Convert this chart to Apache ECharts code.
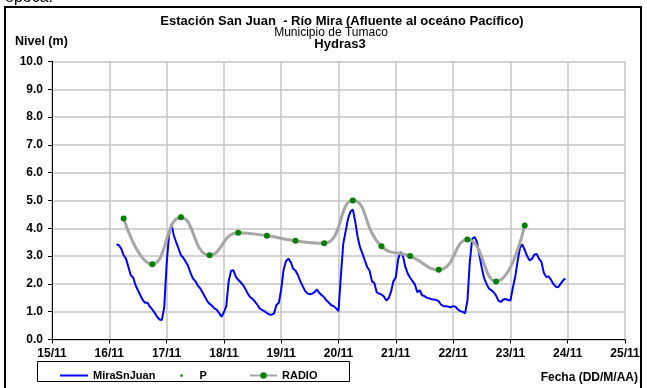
<!DOCTYPE html>
<html>
<head>
<meta charset="utf-8">
<title>Estación San Juan - Río Mira</title>
<script src="https://cdn.jsdelivr.net/npm/echarts@6/dist/echarts.min.js"></script>
<style>
  html, body { margin: 0; padding: 0; background: #fff; }
  #chart { width: 647px; height: 388px; }
</style>
</head>
<body>
<div id="chart"></div>
<script>
// nivel horario MiraSnJuan, desde 16/11 03:00 (una lectura por hora)
var miraStartHour = 3;
var miraLevels = [
  3.42, 3.39, 3.27, 3.03, 2.91, 2.61, 2.31, 2.23, 1.95, 1.77, 1.59, 1.42, 1.32, 1.32, 1.18, 1.08, 0.96, 0.82, 0.72, 0.70, 1.15,
  2.70, 3.75, 4.16, 3.75, 3.50, 3.27, 3.03, 2.94, 2.80, 2.65, 2.40, 2.20, 2.10, 1.95, 1.85, 1.70, 1.55, 1.38, 1.28, 1.22, 1.12, 1.07, 0.95, 0.82,
  0.98, 1.20, 2.10, 2.47, 2.49, 2.25, 2.15, 2.06, 1.96, 1.82, 1.65, 1.52, 1.46, 1.36, 1.25, 1.12, 1.06, 1.02, 0.95, 0.90, 0.89, 0.94, 1.24, 1.32,
  1.80, 2.50, 2.82, 2.91, 2.78, 2.55, 2.47, 2.32, 2.10, 1.92, 1.75, 1.66, 1.63, 1.65, 1.71, 1.80, 1.67, 1.59, 1.52, 1.40, 1.32, 1.23, 1.20, 1.12,
  1.02, 2.30, 3.45, 3.90, 4.35, 4.60, 4.68, 4.25, 3.70, 3.32, 3.10, 2.85, 2.61, 2.48, 2.10, 2.03, 1.70, 1.65, 1.62, 1.55, 1.40, 1.48, 1.72, 2.10,
  2.24, 2.90, 3.15, 3.00, 2.61, 2.37, 2.22, 2.10, 1.98, 1.70, 1.77, 1.59, 1.56, 1.50, 1.48, 1.45, 1.44, 1.42, 1.37, 1.25, 1.20, 1.20, 1.18, 1.16,
  1.20, 1.18, 1.08, 1.02, 1.00, 0.94, 1.40, 2.80, 3.62, 3.69, 3.51, 3.05, 2.58, 2.20, 2.00, 1.83, 1.78, 1.70, 1.58, 1.40, 1.35, 1.44, 1.46, 1.42,
  1.40, 1.85, 2.25, 2.80, 3.30, 3.42, 3.22, 3.00, 2.85, 2.90, 3.05, 3.08, 2.90, 2.79, 2.40, 2.25, 2.27, 2.15, 2.00, 1.90, 1.88, 2.00, 2.12, 2.19
];

// lecturas RADIO (06:00 y 18:00)
var radioTimes = ['16/11 06:00', '16/11 18:00', '17/11 06:00', '17/11 18:00', '18/11 06:00', '18/11 18:00',
  '19/11 06:00', '19/11 18:00', '20/11 06:00', '20/11 18:00', '21/11 06:00', '21/11 18:00',
  '22/11 06:00', '22/11 18:00', '23/11 06:00'];
var radioLevels = [4.35, 2.71, 4.40, 3.03, 3.84, 3.73, 3.55, 3.46, 5.00, 3.35, 3.00, 2.51, 3.60, 2.09, 4.10];

var pValues = [];

var dayTicks = ['15/11', '16/11', '17/11', '18/11', '19/11', '20/11', '21/11', '22/11', '23/11', '24/11', '25/11'];

var FONT = "'Liberation Sans', Arial, sans-serif";

// "16/11 06:00" -> dia fraccional (16.25)
function toDay(str) {
  var parts = str.split(' ');
  var d = parseInt(parts[0].split('/')[0], 10);
  var hm = parts[1].split(':');
  return d + (parseInt(hm[0], 10) + parseInt(hm[1], 10) / 60) / 24;
}

var miraData = miraLevels.map(function (v, i) {
  return [16 + (miraStartHour + i) / 24, v];
});
var radioData = radioLevels.map(function (v, i) {
  return [toDay(radioTimes[i]), v];
});

var legendText = { fontFamily: FONT, fontSize: 11, fontWeight: 'bold', color: '#000' };

var myChart = echarts.init(document.getElementById('chart'));

myChart.setOption({
  animation: false,
  backgroundColor: '#ffffff',
  textStyle: { fontFamily: FONT },
  grid: { left: 52, right: 22, top: 61.5, bottom: 48.5 },
  legend: [
    {
      data: [{ name: 'MiraSnJuan', icon: 'rect' }], left: 55, top: 365, itemWidth: 28, itemHeight: 2, itemGap: 4,
      textStyle: legendText
    },
    {
      data: ['P'], left: 175, top: 365, itemWidth: 26, itemHeight: 3, itemGap: 4,
      textStyle: legendText
    },
    {
      data: ['RADIO'], left: 244, top: 365, itemWidth: 27, itemHeight: 8, itemGap: 4,
      textStyle: legendText
    }
  ],
  xAxis: {
    type: 'value',
    min: 15,
    max: 25,
    interval: 1,
    axisLine: { show: true, lineStyle: { color: '#000', width: 1 } },
    axisTick: { show: true, length: 4, lineStyle: { color: '#000' } },
    axisLabel: {
      margin: 8,
      color: '#000',
      fontFamily: FONT,
      fontSize: 12,
      fontWeight: 'bold',
      formatter: function (v) { return dayTicks[Math.round(v) - 15]; }
    },
    splitLine: { show: true, lineStyle: { color: '#c4c4c4', width: 1.5 } }
  },
  yAxis: {
    type: 'value',
    min: 0,
    max: 10,
    interval: 1,
    axisLine: { show: true, lineStyle: { color: '#000', width: 1 } },
    axisTick: { show: true, length: 4, lineStyle: { color: '#000' } },
    axisLabel: {
      margin: 9,
      color: '#000',
      fontFamily: FONT,
      fontSize: 12,
      fontWeight: 'bold',
      formatter: function (v) { return v.toFixed(1); }
    },
    splitLine: { show: true, lineStyle: { color: '#c4c4c4', width: 1.5 } }
  },
  series: [
    {
      name: 'MiraSnJuan',
      type: 'line',
      data: miraData,
      symbol: 'none',
      lineStyle: { color: '#0000ff', width: 2 },
      itemStyle: { color: '#0000ff' },
      z: 3
    },
    {
      name: 'P',
      type: 'scatter',
      data: pValues,
      symbol: 'circle',
      symbolSize: 4,
      itemStyle: { color: '#008000' }
    },
    {
      name: 'RADIO',
      type: 'line',
      data: radioData,
      smooth: 0.5,
      symbol: 'circle',
      symbolSize: 6,
      showAllSymbol: true,
      lineStyle: { color: '#a6a6a6', width: 3 },
      itemStyle: { color: '#008000', borderWidth: 0 },
      z: 4
    }
  ],
  graphic: [
    {
      type: 'text', left: 5, top: -10,
      style: { text: 'época.', font: '16px ' + FONT, fill: '#000' }
    },
    {
      type: 'rect', shape: { x: 5, y: 7, width: 636, height: 390 },
      style: { fill: 'none', stroke: '#000', lineWidth: 2 }, silent: true
    },
    {
      type: 'text', x: 342, y: 21,
      style: { text: 'Estación San Juan  - Río Mira (Afluente al oceáno Pacífico)', font: 'bold 13px ' + FONT, fill: '#000', align: 'center', verticalAlign: 'middle' }
    },
    {
      type: 'text', x: 331, y: 32.5,
      style: { text: 'Municipio de Tumaco', font: '12px ' + FONT, fill: '#000', align: 'center', verticalAlign: 'middle' }
    },
    {
      type: 'text', x: 340, y: 44,
      style: { text: 'Hydras3', font: 'bold 13px ' + FONT, fill: '#000', align: 'center', verticalAlign: 'middle' }
    },
    {
      type: 'text', x: 15, y: 42,
      style: { text: 'Nivel (m)', font: 'bold 12.5px ' + FONT, fill: '#000', align: 'left', verticalAlign: 'middle' }
    },
    {
      type: 'rect', shape: { x: 37.5, y: 361.5, width: 312, height: 20 },
      style: { fill: 'none', stroke: '#000', lineWidth: 1 }, silent: true
    },
    {
      type: 'text', x: 638, y: 378,
      style: { text: 'Fecha (DD/M/AA)', font: 'bold 12px ' + FONT, fill: '#000', align: 'right', verticalAlign: 'middle' }
    }
  ]
});
</script>
</body>
</html>
